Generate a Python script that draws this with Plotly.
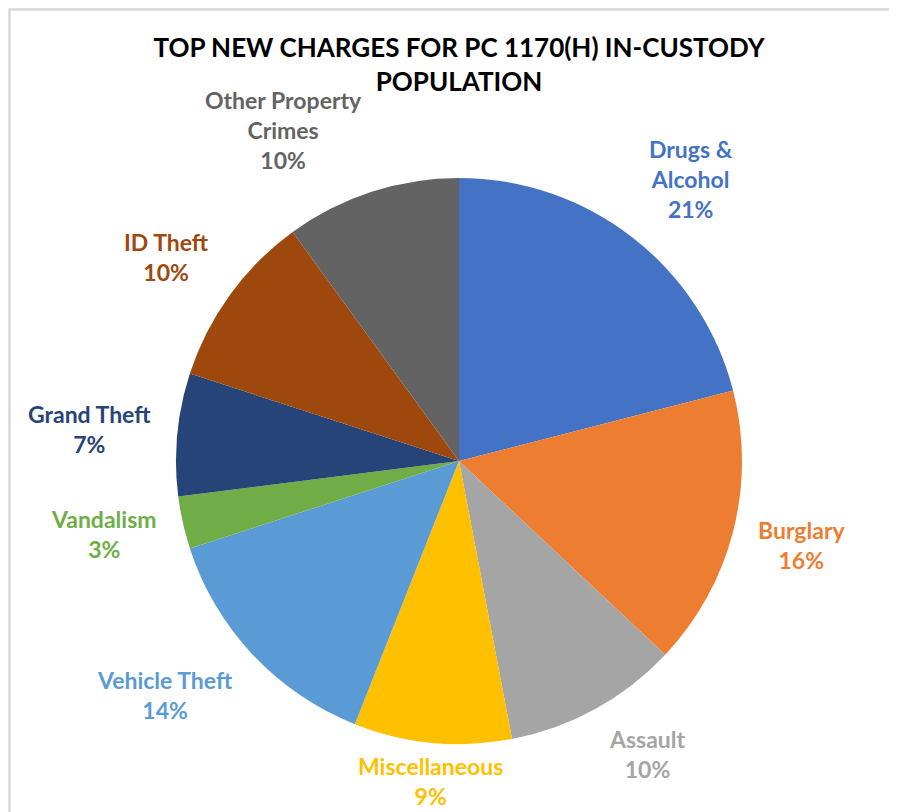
import math
import plotly.graph_objects as go

# ---- data ----
categories = ["Drugs & Alcohol", "Burglary", "Assault", "Miscellaneous", "Vehicle Theft",
              "Vandalism", "Grand Theft", "ID Theft", "Other Property Crimes"]
label_text = ["Drugs &<br>Alcohol", "Burglary", "Assault", "Miscellaneous", "Vehicle Theft",
              "Vandalism", "Grand Theft", "ID Theft", "Other Property<br>Crimes"]
shares = [21, 16, 10, 9, 14, 3, 7, 10, 10]
colors = ["#4472C4", "#ED7D31", "#A5A5A5", "#FFC000", "#5B9BD5",
          "#70AD47", "#264478", "#9E480E", "#636363"]

# the page body has an 8px margin, so the figure is sized to fill the rest of the window
OFF = 8
W, H = 897 - OFF, 812 - OFF
CX, CY, R = 459 - OFF, 461 - OFF, 283   # pie centre (px in figure) and radius
GAP = 24
PADV = 7      # vertical padding inside an annotation's text box
FS = 23
FONT = "Lato"

fig = go.Figure(go.Pie(
    labels=categories, values=shares, sort=False, direction="clockwise", rotation=0,
    marker=dict(colors=colors, line=dict(width=0)),
    textinfo="none", hoverinfo="label+percent", showlegend=False,
    domain=dict(x=[(CX - R) / W, (CX + R) / W], y=[(H - CY - R) / H, (H - CY + R) / H]),
))

total = sum(shares)
cum = 0
annotations = []
for lab, v, col in zip(label_text, shares, colors):
    mid = (cum + v / 2) / total * 2 * math.pi
    cum += v
    s, c = math.sin(mid), math.cos(mid)
    r = R + GAP
    px = CX + r * s
    py = CY - r * c
    xa = "left" if s > 0.3 else ("right" if s < -0.3 else "center")
    ya = "bottom" if c > 0.3 else ("top" if c < -0.3 else "middle")
    txt = f"{lab}<br>{round(v / total * 100)}%"
    nlines = txt.count("<br>") + 1
    h = nlines * 1.3 * FS
    if ya == "bottom":
        py += PADV
    elif ya == "top":
        py -= PADV
        if py + h > H - 2:
            py = H - 2 - h
    else:
        py += -c * h / 2
    annotations.append(dict(
        x=px / W, y=(H - py) / H, xref="paper", yref="paper",
        xanchor=xa, yanchor=ya, text=txt, showarrow=False, align="center",
        font=dict(family=FONT, size=FS, color=col, weight="bold"),
    ))

fig.update_layout(
    width=W, height=H, margin=dict(l=0, r=0, t=0, b=0),
    paper_bgcolor="white", plot_bgcolor="white",
    title=dict(text="TOP NEW CHARGES FOR PC 1170(H) IN-CUSTODY<br>POPULATION",
               x=CX / W, xanchor="center", y=1 - 49 / H, yanchor="top", yref="paper",
               font=dict(family=FONT, size=26, color="#000000", weight="bold")),
    annotations=annotations,
    shapes=[dict(type="rect", xref="paper", yref="paper",
                 x0=1.5 / W, x1=1.02, y0=-0.02, y1=(H - 1.5) / H,
                 line=dict(color="#D9D9D9", width=2.5), fillcolor="rgba(0,0,0,0)")],
)

fig.write_html("out.html")
